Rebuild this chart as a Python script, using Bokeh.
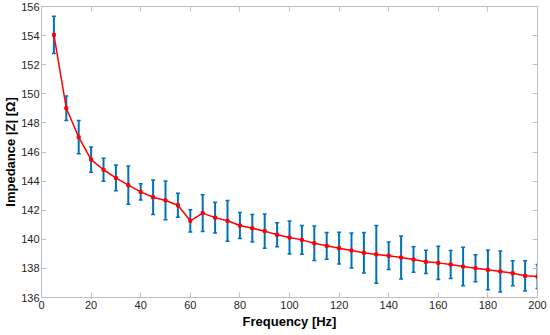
from bokeh.plotting import figure
from bokeh.models import ColumnDataSource, Whisker, TeeHead, LinearAxis, FixedTicker, Range1d
from bokeh.embed import file_html
from bokeh.resources import INLINE

freq = [5, 10, 15, 20, 25, 30, 35, 40, 45, 50, 55, 60, 65, 70, 75, 80, 85, 90, 95, 100,
        105, 110, 115, 120, 125, 130, 135, 140, 145, 150, 155, 160, 165, 170, 175, 180, 185, 190, 195, 200]
impedance = [154.05, 149.01, 147.02, 145.48, 144.78, 144.22, 143.72, 143.26, 142.89, 142.67,
             142.34, 141.27, 141.80, 141.49, 141.27, 140.95, 140.76, 140.56, 140.31, 140.12,
             139.96, 139.73, 139.55, 139.39, 139.23, 139.07, 138.96, 138.87, 138.75, 138.61,
             138.45, 138.38, 138.27, 138.13, 138.01, 137.90, 137.79, 137.67, 137.49, 137.44]
err = [1.28, 0.84, 1.14, 0.87, 0.79, 0.88, 1.31, 0.56, 1.18, 1.33,
       0.83, 0.76, 1.26, 1.05, 1.40, 0.90, 0.95, 1.18, 0.83, 1.13,
       0.99, 1.18, 0.92, 1.09, 1.20, 1.39, 1.98, 0.94, 1.47, 0.87,
       0.80, 1.15, 0.96, 1.33, 0.92, 1.37, 1.41, 0.86, 1.04, 0.83]
x_ticks = [0, 20, 40, 60, 80, 100, 120, 140, 160, 180, 200]
y_ticks = [136, 138, 140, 142, 144, 146, 148, 150, 152, 154, 156]

src = ColumnDataSource(dict(
    x=freq, y=impedance,
    upper=[v + e for v, e in zip(impedance, err)],
    lower=[v - e for v, e in zip(impedance, err)],
))

AX = "#c0c0c0"
TXT = "#262626"
FONT = "Liberation Sans"

p = figure(width=550, height=335, output_backend="svg", toolbar_location=None,
           x_range=Range1d(0, 200), y_range=Range1d(136, 156),
           min_border_left=39, min_border_right=13, min_border_top=6, min_border_bottom=38)
p.grid.visible = False
p.outline_line_color = AX
p.background_fill_color = "white"
p.border_fill_color = "white"

blue = "#0072BD"
w = Whisker(source=src, base="x", upper="upper", lower="lower", dimension="height",
            line_color=blue, line_width=2,
            upper_head=TeeHead(size=4, line_color=blue, line_width=1.5),
            lower_head=TeeHead(size=4, line_color=blue, line_width=1.5))
p.add_layout(w)

p.line("x", "y", source=src, line_color="red", line_width=1.5)
p.scatter("x", "y", source=src, marker="square", size=3, fill_color="red", line_color="red")

def style(ax, ticks, labels=True):
    ax.ticker = FixedTicker(ticks=ticks)
    ax.axis_line_color = AX
    ax.major_tick_line_color = AX
    ax.major_tick_in = 5
    ax.major_tick_out = 0
    ax.minor_tick_line_color = None
    ax.major_label_text_color = TXT
    ax.major_label_text_font = FONT
    ax.major_label_text_font_size = "11px"
    ax.major_label_standoff = 3
    if not labels:
        ax.major_label_overrides = {t: "" for t in ticks}
        ax.major_label_standoff = 0

style(p.xaxis[0], x_ticks)
style(p.yaxis[0], y_ticks)
p.yaxis[0].major_label_standoff = 2
p.xaxis[0].axis_label = "Frequency [Hz]"
p.yaxis[0].axis_label = "Impedance |Z| [Ω]"
for ax in (p.xaxis[0], p.yaxis[0]):
    ax.axis_label_text_font = FONT
    ax.axis_label_text_font_style = "bold"
    ax.axis_label_text_font_size = "13px"
    ax.axis_label_text_color = "black"
    ax.axis_label_standoff = 0
p.xaxis[0].axis_label_standoff = 2

rax = LinearAxis()
style(rax, y_ticks, labels=False)
tax = LinearAxis()
style(tax, x_ticks, labels=False)
p.add_layout(rax, "right")
p.add_layout(tax, "above")

open("out.html", "w").write(file_html(p, INLINE))
